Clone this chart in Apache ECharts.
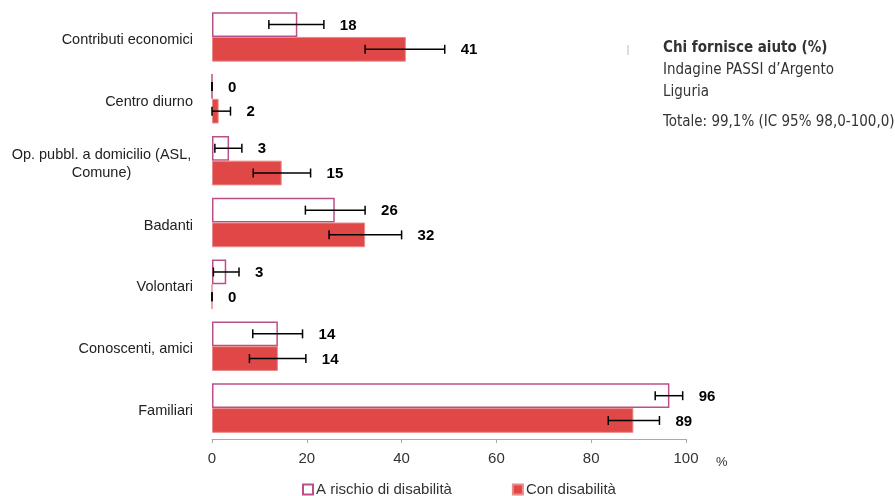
<!DOCTYPE html>
<html>
<head>
<meta charset="utf-8">
<script src="https://cdn.jsdelivr.net/npm/echarts@6/dist/echarts.min.js"></script>
<style>
  html, body { margin: 0; padding: 0; background: #fff; }
  #main { width: 895px; height: 496px; }
</style>
</head>
<body>
<div id="main"></div>
<script>
// dati
var categories = ['Contributi economici', 'Centro diurno', 'Op. pubbl. a domicilio (ASL,\nComune)', 'Badanti', 'Volontari', 'Conoscenti, amici', 'Familiari'];
var rischio = [18.0, 0, 3.6, 25.9, 3.0, 13.9, 96.5];
var rischioLo = [12.0, 0, 0.6, 19.7, 0.3, 8.6, 93.5];
var rischioHi = [23.6, 0, 6.3, 32.3, 5.7, 19.1, 99.3];
var rischioLbl = ['18', '0', '3', '26', '3', '14', '96'];
var disab = [40.9, 1.4, 14.7, 32.3, 0, 13.9, 88.9];
var disabLo = [32.3, 0, 8.7, 24.7, 0, 7.9, 83.6];
var disabHi = [49.1, 3.9, 20.8, 40.0, 0, 19.8, 94.4];
var disabLbl = ['41', '2', '15', '32', '0', '14', '89'];
var xTicks = [0, 20, 40, 60, 80, 100];

var FONT = "'Liberation Sans', Arial, sans-serif";
var NARROW = "'Liberation Sans Narrow', 'DejaVu Sans Condensed', 'Liberation Sans', sans-serif";

function errData(lo, hi, lbl) {
    var out = [];
    for (var i = 0; i < lo.length; i++) out.push([lo[i], hi[i], i, lbl[i]]);
    return out;
}

function errRender(side) {
    return function (params, api) {
        var cat = api.value(2);
        var p0 = api.coord([api.value(0), cat]);
        var p1 = api.coord([api.value(1), cat]);
        var band = api.size([0, 1])[1];
        var y = p0[1] + side * band * 0.2;
        var h = 4.5;
        var st = { stroke: '#000', lineWidth: 1.5 };
        return {
            type: 'group',
            children: [
                { type: 'line', shape: { x1: p0[0], y1: y, x2: p1[0], y2: y }, style: st },
                { type: 'line', shape: { x1: p0[0], y1: y - h, x2: p0[0], y2: y + h }, style: st },
                { type: 'line', shape: { x1: p1[0], y1: y - h, x2: p1[0], y2: y + h }, style: st },
                { type: 'text', style: {
                    text: api.value(3), x: p1[0] + 16, y: y + 1,
                    fill: '#000', font: 'bold 15px ' + FONT,
                    align: 'left', verticalAlign: 'middle' } }
            ]
        };
    };
}

var myChart = echarts.init(document.getElementById('main'));
var option = {
    animation: false,
    grid: { left: 212, right: 209, top: 6, bottom: 57 },
    legend: {
        left: 302, top: 482, padding: 0,
        itemWidth: 10, itemHeight: 10, itemGap: 60,
        icon: 'rect',
        data: ['A rischio di disabilità', 'Con disabilità'],
        textStyle: { fontFamily: FONT, fontSize: 15, color: '#333', padding: [0, 0, 0, -2] }
    },
    xAxis: {
        type: 'value', min: 0, max: 100, interval: 20,
        splitLine: { show: false },
        axisLine: { show: true, lineStyle: { color: '#aaa', width: 1 } },
        axisTick: { show: true, length: 4, lineStyle: { color: '#aaa' } },
        axisLabel: {
            fontFamily: FONT, fontSize: 15, color: '#333', margin: 12,
            formatter: function (v) { return xTicks.indexOf(v) >= 0 ? String(v) : ''; }
        }
    },
    yAxis: {
        type: 'category', inverse: true,
        data: categories,
        axisLine: { show: false },
        axisTick: { show: false },
        axisLabel: {
            fontFamily: FONT, fontSize: 14.5, color: '#222', margin: 19, lineHeight: 18,
            padding: [6, 0, 0, 0],
            formatter: function (v) {
                if (v.indexOf('\n') >= 0) {
                    return v.split('\n').map(function (s) { return '{c|' + s + '}'; }).join('\n');
                }
                return v;
            },
            rich: {
                c: { fontFamily: FONT, fontSize: 14.5, color: '#222', width: 183, align: 'center', lineHeight: 18 }
            }
        }
    },
    graphic: [
        { type: 'line', shape: { x1: 628, y1: 45, x2: 628, y2: 55 }, style: { stroke: '#bbb', lineWidth: 1 } },
        { type: 'text', left: 663, top: 41, style: { text: 'Chi fornisce aiuto (%)', font: 'bold 15px ' + NARROW, fill: '#333' } },
        { type: 'text', left: 663, top: 63, style: { text: 'Indagine PASSI d\u2019Argento', font: '15px ' + NARROW, fill: '#333' } },
        { type: 'text', left: 663, top: 85, style: { text: 'Liguria', font: '15px ' + NARROW, fill: '#333' } },
        { type: 'text', left: 663, top: 115, style: { text: 'Totale: 99,1% (IC 95% 98,0-100,0)', font: '15px ' + NARROW, fill: '#333' } },
        { type: 'text', left: 716, top: 456, style: { text: '%', font: '13px ' + FONT, fill: '#333' } }
    ],
    series: [
        {
            name: 'A rischio di disabilità', type: 'bar',
            barGap: 0, barCategoryGap: '20%',
            itemStyle: { color: '#fff', borderColor: '#b9508a', borderWidth: 1.5 },
            data: rischio
        },
        {
            name: 'Con disabilità', type: 'bar',
            itemStyle: { color: '#e04848', borderColor: '#ea8a8a', borderWidth: 1 },
            data: disab
        },
        {
            type: 'custom', renderItem: errRender(-1),
            encode: { x: [0, 1], y: 2 }, z: 5,
            data: errData(rischioLo, rischioHi, rischioLbl)
        },
        {
            type: 'custom', renderItem: errRender(1),
            encode: { x: [0, 1], y: 2 }, z: 5,
            data: errData(disabLo, disabHi, disabLbl)
        }
    ]
};
myChart.setOption(option);
</script>
</body>
</html>
